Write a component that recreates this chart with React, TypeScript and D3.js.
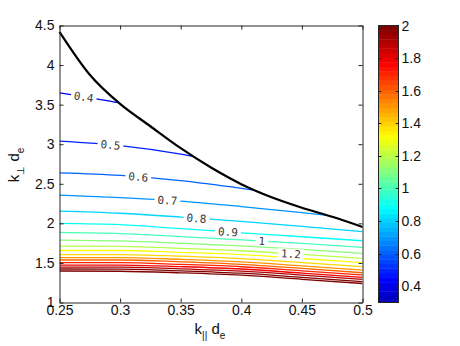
import React, { useEffect, useRef } from "react";
import * as d3 from "d3";

// k_parallel sample points where the contour levels were read
const kxGrid = [0.25, 0.3, 0.35, 0.4, 0.45, 0.5];

// contour levels and their k_perp values at kxGrid
const levels = [0.4, 0.5, 0.6, 0.7, 0.8, 0.9, 1.0, 1.1, 1.2, 1.3, 1.4, 1.5, 1.6, 1.7, 1.8, 1.9, 2.0, 2.1];
const lvl04 = [3.649, 3.521, 3.37, 3.2, 3.0, 2.8];
const lvl05 = [3.039, 2.982, 2.875, 2.72, 2.55, 2.35];
const lvl06 = [2.639, 2.607, 2.54, 2.443, 2.33, 2.2];
const lvl07 = [2.357, 2.326, 2.282, 2.212, 2.136, 2.054];
const lvl08 = [2.155, 2.128, 2.08, 2.024, 1.962, 1.894];
const lvl09 = [2.0, 1.984, 1.934, 1.881, 1.831, 1.78];
const lvl10 = [1.886, 1.871, 1.833, 1.792, 1.746, 1.697];
const lvl11 = [1.789, 1.778, 1.749, 1.716, 1.672, 1.621];
const lvl12 = [1.713, 1.71, 1.684, 1.654, 1.607, 1.558];
const lvl13 = [1.657, 1.657, 1.634, 1.605, 1.556, 1.503];
const lvl14 = [1.606, 1.606, 1.585, 1.554, 1.505, 1.452];
const lvl15 = [1.568, 1.568, 1.545, 1.514, 1.463, 1.41];
const lvl16 = [1.537, 1.537, 1.514, 1.482, 1.431, 1.376];
const lvl17 = [1.505, 1.504, 1.482, 1.452, 1.4, 1.347];
const lvl18 = [1.473, 1.473, 1.453, 1.423, 1.371, 1.318];
const lvl19 = [1.448, 1.446, 1.426, 1.396, 1.346, 1.293];
const lvl20 = [1.423, 1.421, 1.4, 1.37, 1.318, 1.263];
const lvl21 = [1.398, 1.395, 1.375, 1.345, 1.293, 1.24];
const contourLines = [lvl04, lvl05, lvl06, lvl07, lvl08, lvl09, lvl10, lvl11, lvl12,
  lvl13, lvl14, lvl15, lvl16, lvl17, lvl18, lvl19, lvl20, lvl21];

// inline labels (clabel): level and k_parallel position
const labelLevels = [0.4, 0.5, 0.6, 0.7, 0.8, 0.9, 1.0, 1.2];
const labelKx = [0.27, 0.292, 0.315, 0.339, 0.363, 0.389, 0.417, 0.441];

// black boundary curve
const boundKx = [0.25, 0.275, 0.3, 0.325, 0.35, 0.375, 0.4, 0.425, 0.45, 0.475, 0.5];
const boundKp = [4.42, 3.878, 3.509, 3.227, 2.95, 2.705, 2.495, 2.33, 2.198, 2.083, 1.955];

const xTicks = [0.25, 0.3, 0.35, 0.4, 0.45, 0.5];
const yTicks = [1, 1.5, 2, 2.5, 3, 3.5, 4, 4.5];
const cbTicks = [0.4, 0.6, 0.8, 1, 1.2, 1.4, 1.6, 1.8, 2];
const cbRange = [0.3, 2];
const cmapRange = [0.2, 2];

const FONT = "'Liberation Sans', Arial, Helvetica, sans-serif";

const jet = (t: number) => {
  const c = (v: number) => Math.round(255 * Math.max(0, Math.min(1, v)));
  return `rgb(${c(1.5 - Math.abs(4 * t - 3))},${c(1.5 - Math.abs(4 * t - 2))},${c(1.5 - Math.abs(4 * t - 1))})`;
};
const nColors = 64;
const colorOf = (v: number) => {
  const idx = Math.max(0, Math.min(nColors - 1, Math.floor(((v - cmapRange[0]) / (cmapRange[1] - cmapRange[0])) * nColors)));
  return jet(idx / (nColors - 1));
};

const App = () => {
  const ref = useRef<SVGSVGElement>(null);

  useEffect(() => {
    const svg = d3.select(ref.current);
    svg.selectAll("*").remove();

    const left = 59.5, right = 362.5, top = 25.5, bottom = 302.5;
    const x = d3.scaleLinear().domain([0.25, 0.5]).range([left, right]);
    const y = d3.scaleLinear().domain([1, 4.5]).range([bottom, top]);

    // clip region below the boundary curve
    const area = d3.area<number>()
      .x((d, i) => x(boundKx[i]))
      .y0(y(1))
      .y1((d) => y(d))
      .curve(d3.curveMonotoneX);
    svg.append("defs").append("clipPath").attr("id", "below")
      .append("path").attr("d", area(boundKp));

    const line = d3.line<number>()
      .x((d, i) => x(kxGrid[i]))
      .y((d) => y(d))
      .curve(d3.curveMonotoneX);

    svg.append("g").attr("clip-path", "url(#below)")
      .selectAll("path")
      .data(contourLines)
      .join("path")
      .attr("d", (d) => line(d))
      .attr("fill", "none")
      .attr("stroke", (d, i) => colorOf(levels[i]))
      .attr("stroke-width", 1.3);

    // labels with white gaps
    const lab = svg.append("g");
    labelLevels.forEach((lv, j) => {
      const row = contourLines[levels.findIndex((l) => Math.abs(l - lv) < 1e-6)];
      const interp = d3.scaleLinear().domain(kxGrid).range(row);
      const kx = labelKx[j];
      const px = x(kx), py = y(interp(kx));
      const dx = x(kx + 0.01) - x(kx - 0.01);
      const dy = y(interp(kx + 0.01)) - y(interp(kx - 0.01));
      const ang = (Math.atan2(dy, dx) * 180) / Math.PI;
      const txt = String(lv);
      const w = txt.length * 6.6 + 6;
      const g = lab.append("g").attr("transform", `translate(${px},${py}) rotate(${ang})`);
      g.append("rect").attr("x", -w / 2).attr("y", -5).attr("width", w).attr("height", 10).attr("fill", "#fff");
      g.append("text")
        .attr("text-anchor", "middle")
        .attr("dy", "0.36em")
        .attr("font-family", "'DejaVu Sans Mono', monospace")
        .attr("font-size", 11)
        .attr("fill", "#3a3a3a")
        .text(txt);
    });

    // boundary curve
    const bline = d3.line<number>()
      .x((d, i) => x(boundKx[i]))
      .y((d) => y(d))
      .curve(d3.curveMonotoneX);
    svg.append("path").attr("d", bline(boundKp))
      .attr("fill", "none").attr("stroke", "#000").attr("stroke-width", 2.2);

    // axes
    const styleAxis = (g: any) => {
      g.selectAll("path").attr("stroke", "#262626");
      g.selectAll("line").attr("stroke", "#262626");
      g.selectAll("text").attr("font-family", FONT).attr("font-size", 14).attr("fill", "#111");
    };
    const fmt = d3.format("~g");
    svg.append("g").attr("transform", `translate(0,${bottom})`)
      .call(d3.axisBottom(x).tickValues(xTicks).tickFormat((d: any) => fmt(d)).tickSizeInner(-4).tickSizeOuter(0).tickPadding(3))
      .call(styleAxis);
    svg.append("g").attr("transform", `translate(0,${top})`)
      .call(d3.axisTop(x).tickValues(xTicks).tickFormat(() => "").tickSizeInner(-4).tickSizeOuter(0))
      .call(styleAxis);
    svg.append("g").attr("transform", `translate(${left},0)`)
      .call(d3.axisLeft(y).tickValues(yTicks).tickFormat((d: any) => fmt(d)).tickSizeInner(-4).tickSizeOuter(0).tickPadding(5))
      .call(styleAxis);
    svg.append("g").attr("transform", `translate(${right},0)`)
      .call(d3.axisRight(y).tickValues(yTicks).tickFormat(() => "").tickSizeInner(-4).tickSizeOuter(0))
      .call(styleAxis);

    // axis labels
    const xl = svg.append("text").attr("x", 210).attr("y", 334)
      .attr("text-anchor", "middle").attr("font-family", FONT).attr("font-size", 15).attr("fill", "#111");
    xl.append("tspan").text("k");
    xl.append("tspan").attr("dy", 5).attr("font-size", 10).text("||");
    xl.append("tspan").attr("dy", -5).text(" d");
    xl.append("tspan").attr("dy", 5).attr("font-size", 10).text("e");

    const yl = svg.append("text").attr("transform", "translate(18.5,165) rotate(-90)")
      .attr("text-anchor", "middle").attr("font-family", FONT).attr("font-size", 15).attr("fill", "#111");
    yl.append("tspan").text("k");
    yl.append("tspan").attr("dy", 5).attr("font-size", 10).text("\u22A5");
    yl.append("tspan").attr("dy", -5).text(" d");
    yl.append("tspan").attr("dy", 5).attr("font-size", 10).text("e");

    // colorbar
    const cbL = 378.5, cbR = 398.5;
    const cy = d3.scaleLinear().domain(cbRange).range([bottom, top]).clamp(true);
    const step = (cmapRange[1] - cmapRange[0]) / nColors;
    const bands = d3.range(nColors).map((i) => cmapRange[0] + i * step);
    svg.append("g").selectAll("rect")
      .data(bands.filter((v) => v + step > cbRange[0]))
      .join("rect")
      .attr("x", cbL)
      .attr("width", cbR - cbL)
      .attr("y", (v) => cy(v + step))
      .attr("height", (v) => cy(v) - cy(v + step) + 0.4)
      .attr("fill", (v) => colorOf(v + step / 2));
    svg.append("rect").attr("x", cbL).attr("y", top).attr("width", cbR - cbL).attr("height", bottom - top)
      .attr("fill", "none").attr("stroke", "#262626").attr("stroke-width", 1);
    const cbt = svg.append("g");
    cbTicks.forEach((t) => {
      const ty = Math.round(cy(t)) + 0.5;
      cbt.append("line").attr("x1", cbL).attr("x2", cbL + 3).attr("y1", ty).attr("y2", ty).attr("stroke", "#262626");
      cbt.append("line").attr("x1", cbR - 3).attr("x2", cbR).attr("y1", ty).attr("y2", ty).attr("stroke", "#262626");
      cbt.append("text").attr("x", cbR + 3).attr("y", cy(t)).attr("dy", "0.36em")
        .attr("font-family", FONT).attr("font-size", 14).attr("fill", "#111").text(fmt(t));
    });
  }, []);

  return (
    <svg
      ref={ref}
      width={460}
      height={346}
      style={{ position: "absolute", left: 0, top: 0, background: "#fff" }}
    ></svg>
  );
};

export default App;
